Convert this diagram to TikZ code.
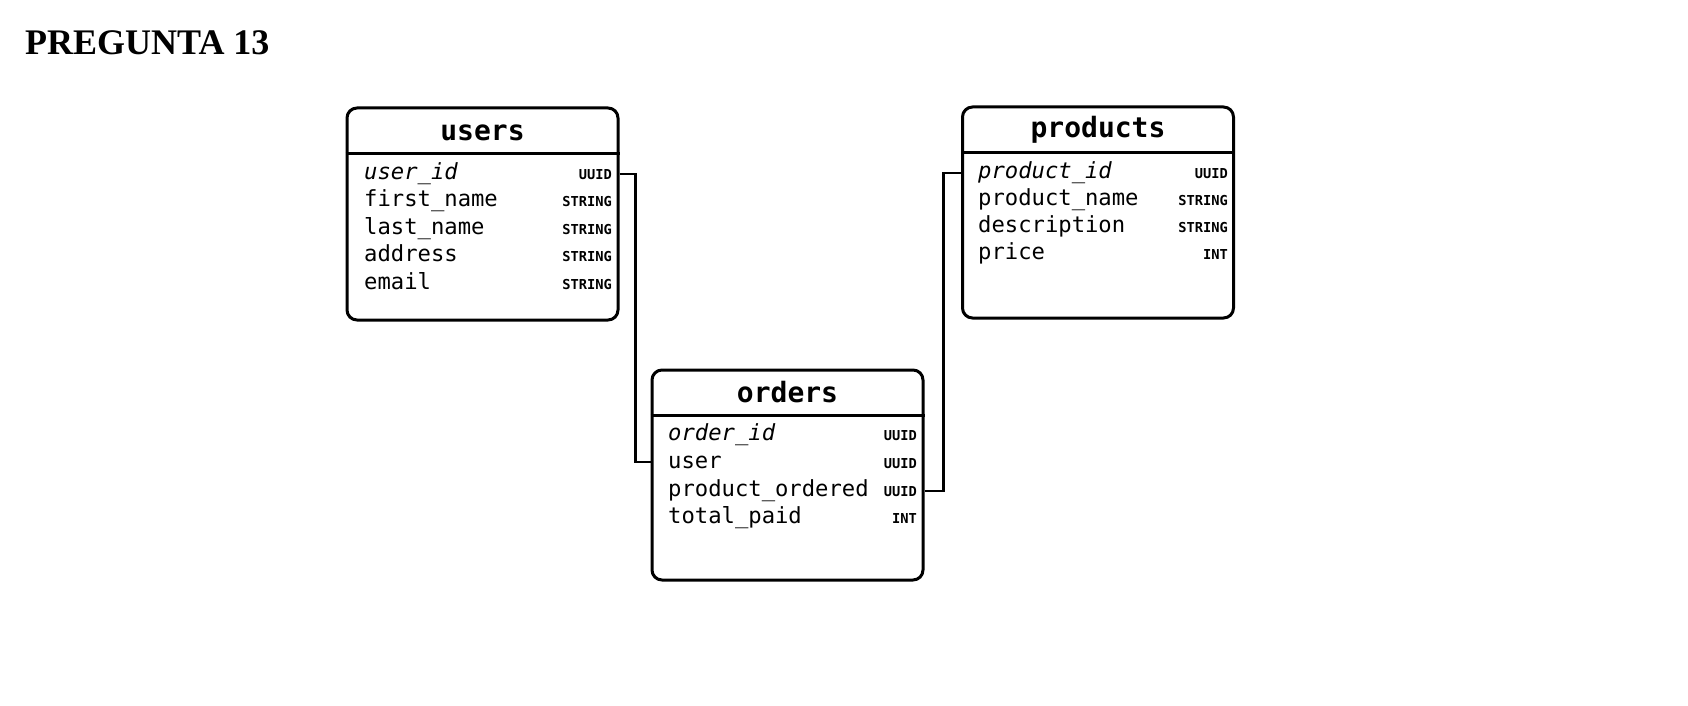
\documentclass[tikz,border=0pt]{standalone}
\usepackage{fontspec}
\setmainfont{Liberation Serif}
\newfontfamily\tabfont{DejaVu Sans Mono}
\begin{document}
\begin{tikzpicture}[x=1pt,y=-1pt,
  tablebox/.style={draw, line width=3pt, rounded corners=10pt, inner sep=0pt, minimum width=271pt},
  headrule/.style={line width=3pt},
  tabletitle/.style={anchor=base, inner sep=0pt, font=\tabfont\fontsize{28}{28}\selectfont\bfseries},
  fieldname/.style={anchor=base west, inner sep=0pt, font=\tabfont\fontsize{22.2}{22}\selectfont},
  keyname/.style={fieldname, font=\tabfont\fontsize{22.2}{22}\selectfont\itshape},
  fieldtype/.style={anchor=base east, inner sep=0pt, font=\tabfont\fontsize{13.7}{13.5}\selectfont\bfseries},
  link/.style={line width=2.3pt}]
\useasboundingbox (0,0) rectangle (1688,706);

\node[anchor=base west, inner sep=0pt, font=\fontsize{36}{36}\selectfont\bfseries] (title) at (25,55) {PREGUNTA 13};

% users
\node[tablebox, minimum height=212pt] (users) at (482.5,214) {};
\draw[headrule] (users.west |- 0,153) -- (users.east |- 0,153);
\node[tabletitle] (usersT) at (482.5,140) {users};
\node[keyname]   (u1) at (364,179)   {user\_id};
\node[fieldname] (u2) at (364,206.5) {first\_name};
\node[fieldname] (u3) at (364,234)   {last\_name};
\node[fieldname] (u4) at (364,261.5) {address};
\node[fieldname] (u5) at (364,289)   {email};
\node[fieldtype] (ut1) at (612,179)   {UUID};
\node[fieldtype] (ut2) at (612,206.5) {STRING};
\node[fieldtype] (ut3) at (612,234)   {STRING};
\node[fieldtype] (ut4) at (612,261.5) {STRING};
\node[fieldtype] (ut5) at (612,289)   {STRING};

% orders
\node[tablebox, minimum height=210pt] (orders) at (787.5,475) {};
\draw[headrule] (orders.west |- 0,415) -- (orders.east |- 0,415);
\node[tabletitle] (ordersT) at (787.5,402) {orders};
\node[keyname]   (o1) at (668,440)   {order\_id};
\node[fieldname] (o2) at (668,468)   {user};
\node[fieldname] (o3) at (668,496)   {product\_ordered};
\node[fieldname] (o4) at (668,523)   {total\_paid};
\node[fieldtype] (ot1) at (917,440) {UUID};
\node[fieldtype] (ot2) at (917,468) {UUID};
\node[fieldtype] (ot3) at (917,496) {UUID};
\node[fieldtype] (ot4) at (917,523) {INT};

% products
\node[tablebox, minimum height=211pt] (products) at (1098,212.5) {};
\draw[headrule] (products.west |- 0,152) -- (products.east |- 0,152);
\node[tabletitle] (productsT) at (1098,137) {products};
\node[keyname]   (p1) at (978,178) {product\_id};
\node[fieldname] (p2) at (978,205) {product\_name};
\node[fieldname] (p3) at (978,232) {description};
\node[fieldname] (p4) at (978,259) {price};
\node[fieldtype] (pt1) at (1228,178) {UUID};
\node[fieldtype] (pt2) at (1228,205) {STRING};
\node[fieldtype] (pt3) at (1228,232) {STRING};
\node[fieldtype] (pt4) at (1228,259) {INT};

% relations
\draw[link] (users.east |- ut1) -- ++(16,0) |- (orders.west |- o2);
\draw[link] (orders.east |- ot3) -- ++(19,0) |- (products.west |- pt1);
\end{tikzpicture}
\end{document}
